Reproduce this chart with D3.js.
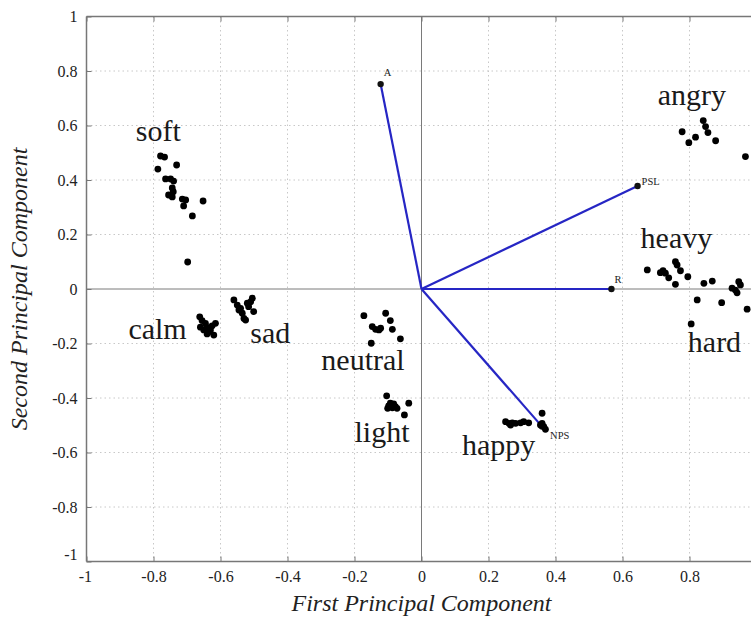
<!DOCTYPE html>
<html>
<head>
<meta charset="utf-8">
<script src="https://cdn.jsdelivr.net/npm/d3@7"></script>
<style>
  html, body { margin: 0; padding: 0; background: #fff; }
  svg { display: block; }
</style>
</head>
<body>
<svg id="chart" width="751" height="618"></svg>
<script>
// ---------------- DATA ----------------
const xTicks = [-1, -0.8, -0.6, -0.4, -0.2, 0, 0.2, 0.4, 0.6, 0.8];
const yTicks = [1, 0.8, 0.6, 0.4, 0.2, 0, -0.2, -0.4, -0.6, -0.8, -1];
const xTitle = "First Principal Component";
const yTitle = "Second Principal Component";

const softPts = [[-0.779,0.488],[-0.767,0.484],[-0.787,0.440],[-0.731,0.455],[-0.764,0.404],[-0.749,0.404],[-0.740,0.396],[-0.744,0.371],[-0.741,0.357],[-0.755,0.345],[-0.744,0.338],[-0.714,0.330],[-0.704,0.327],[-0.710,0.305],[-0.652,0.323],[-0.684,0.268],[-0.698,0.099]];
const calmPts = [[-0.662,-0.102],[-0.655,-0.116],[-0.645,-0.126],[-0.640,-0.141],[-0.630,-0.150],[-0.620,-0.169],[-0.615,-0.126],[-0.650,-0.150],[-0.635,-0.157],[-0.625,-0.135],[-0.660,-0.140],[-0.640,-0.165]];
const sadPts = [[-0.560,-0.040],[-0.550,-0.059],[-0.540,-0.071],[-0.520,-0.052],[-0.505,-0.034],[-0.510,-0.047],[-0.501,-0.083],[-0.535,-0.089],[-0.530,-0.108],[-0.525,-0.114],[-0.516,-0.065],[-0.545,-0.077]];
const neutralPts = [[-0.172,-0.098],[-0.107,-0.089],[-0.093,-0.116],[-0.147,-0.138],[-0.137,-0.148],[-0.122,-0.144],[-0.127,-0.150],[-0.087,-0.148],[-0.063,-0.183],[-0.150,-0.199]];
const lightPts = [[-0.104,-0.392],[-0.098,-0.429],[-0.087,-0.436],[-0.078,-0.432],[-0.073,-0.438],[-0.093,-0.419],[-0.083,-0.422],[-0.038,-0.419],[-0.051,-0.462],[-0.101,-0.438]];
const happyPts = [[0.251,-0.487],[0.261,-0.493],[0.271,-0.491],[0.281,-0.493],[0.296,-0.491],[0.305,-0.487],[0.320,-0.491],[0.266,-0.499],[0.360,-0.456],[0.360,-0.493],[0.365,-0.505],[0.370,-0.515],[0.355,-0.499]];
const angryPts = [[0.778,0.577],[0.798,0.537],[0.818,0.557],[0.841,0.618],[0.848,0.596],[0.855,0.574],[0.878,0.544],[0.967,0.486]];
const heavyHardPts = [[0.674,0.070],[0.713,0.060],[0.721,0.067],[0.728,0.058],[0.738,0.041],[0.758,0.100],[0.763,0.088],[0.773,0.067],[0.758,0.017],[0.795,0.045],[0.843,0.021],[0.868,0.029],[0.823,-0.040],[0.896,-0.050],[0.805,-0.128],[0.927,0.003],[0.937,-0.004],[0.942,-0.014],[0.947,0.027],[0.952,0.015],[0.972,-0.074],[0.995,0.020]];

const clusterNames = ["soft","calm","sad","neutral","light","happy","angry","heavy","hard"];
const clusterLabelX = [-0.853,-0.875,-0.511,-0.299,-0.200,0.121,0.705,0.654,0.795];
const clusterLabelY = [0.543,-0.183,-0.197,-0.297,-0.560,-0.609,0.675,0.150,-0.230];

const vectorNames = ["A","PSL","R","NPS"];
const vectorX = [-0.122, 0.645, 0.567, 0.360];
const vectorY = [0.752, 0.378, 0.0, -0.505];

// ---------------- LAYOUT ----------------
const svg = d3.select("#chart");
const x = d3.scaleLinear().domain([-1, 1]).range([86.5, 756.5]);
const y = d3.scaleLinear().domain([-1, 1]).range([561.5, 16.5]);
const serif = "'Liberation Serif', 'Times New Roman', serif";
const fmt = d => String(d);

// grid
const grid = svg.append("g");
grid.selectAll("line.gx").data(xTicks.filter(d => d !== -1 && d !== 0)).enter().append("line")
  .attr("x1", d => x(d)).attr("x2", d => x(d)).attr("y1", y(1)).attr("y2", y(-1))
  .attr("stroke", "#c8c8c8").attr("stroke-width", 1).attr("stroke-dasharray", "1.5,3");
grid.selectAll("line.gy").data(yTicks.filter(d => d !== 1 && d !== -1 && d !== 0)).enter().append("line")
  .attr("x1", x(-1)).attr("x2", 751).attr("y1", d => y(d)).attr("y2", d => y(d))
  .attr("stroke", "#c8c8c8").attr("stroke-width", 1).attr("stroke-dasharray", "1.5,3");

// zero lines
svg.append("line").attr("x1", x(0)).attr("x2", x(0)).attr("y1", y(1)).attr("y2", y(-1))
  .attr("stroke", "#7a7a7a").attr("stroke-width", 1);
svg.append("line").attr("x1", x(-1)).attr("x2", 751).attr("y1", y(0)).attr("y2", y(0))
  .attr("stroke", "#7a7a7a").attr("stroke-width", 1);

// axes
const axisColor = "#777";
const gBottom = svg.append("g").attr("transform", `translate(0,${y(-1)})`)
  .call(d3.axisBottom(x).tickValues(xTicks).tickSize(-5).tickPadding(8).tickFormat(fmt));
const gTop = svg.append("g").attr("transform", `translate(0,${y(1)})`)
  .call(d3.axisTop(x).tickValues(xTicks).tickSize(-5).tickFormat(""));
const gLeft = svg.append("g").attr("transform", `translate(${x(-1)},0)`)
  .call(d3.axisLeft(y).tickValues(yTicks).tickSize(-5).tickPadding(9).tickFormat(fmt));
[gBottom, gTop, gLeft].forEach(g => {
  g.select(".domain").attr("stroke", axisColor).attr("stroke-width", 1.5);
  g.selectAll(".tick line").attr("stroke", axisColor);
  g.selectAll(".tick text").attr("fill", "#222").style("font-family", serif).style("font-size", "16px");
});
gBottom.select(".domain").attr("d", `M${x(-1)},0H751`);
gTop.select(".domain").attr("d", `M${x(-1)},0H751`);
gLeft.select(".domain").attr("d", `M0,${y(1)}V${y(-1)}`);
gBottom.selectAll(".tick text").attr("dy", "0.78em");
gBottom.selectAll(".tick").filter(d => d === -1).select("text").attr("dx", "-0.1em");
gLeft.selectAll(".tick").filter(d => d === -1).select("text").attr("dy", "-0.1em");

// axis titles
svg.append("text").attr("x", x(0)).attr("y", 611)
  .attr("text-anchor", "middle").style("font-family", serif).style("font-style", "italic")
  .style("font-size", "24px").attr("fill", "#222").text(xTitle);
svg.append("text").attr("transform", `translate(27,${y(0)}) rotate(-90)`)
  .attr("text-anchor", "middle").style("font-family", serif).style("font-style", "italic")
  .style("font-size", "24px").attr("fill", "#222").text(yTitle);

// vectors
const vectors = vectorNames.map((n, i) => ({ name: n, x: vectorX[i], y: vectorY[i] }));
svg.append("g").selectAll("line").data(vectors).enter().append("line")
  .attr("x1", x(0)).attr("y1", y(0)).attr("x2", d => x(d.x)).attr("y2", d => y(d.y))
  .attr("stroke", "#2626c4").attr("stroke-width", 2.2);
svg.append("g").selectAll("circle").data(vectors).enter().append("circle")
  .attr("cx", d => x(d.x)).attr("cy", d => y(d.y)).attr("r", 3.2).attr("fill", "#111");
const vlabOff = { A: [3, -8], PSL: [4, -1], R: [3, -6], NPS: [8, 12] };
svg.append("g").selectAll("text").data(vectors).enter().append("text")
  .attr("x", d => x(d.x) + vlabOff[d.name][0]).attr("y", d => y(d.y) + vlabOff[d.name][1])
  .style("font-family", serif).style("font-size", "10.5px").attr("fill", "#222").text(d => d.name);

// points
const allPts = [].concat(softPts, calmPts, sadPts, neutralPts, lightPts, happyPts, angryPts, heavyHardPts);
svg.append("g").selectAll("circle").data(allPts).enter().append("circle")
  .attr("cx", d => x(d[0])).attr("cy", d => y(d[1])).attr("r", 3.4).attr("fill", "#000");

// cluster labels
svg.append("g").selectAll("text").data(clusterNames).enter().append("text")
  .attr("x", (d, i) => x(clusterLabelX[i])).attr("y", (d, i) => y(clusterLabelY[i]))
  .style("font-family", serif).style("font-size", "30px").attr("fill", "#1a1a1a").text(d => d);
</script>
</body>
</html>
